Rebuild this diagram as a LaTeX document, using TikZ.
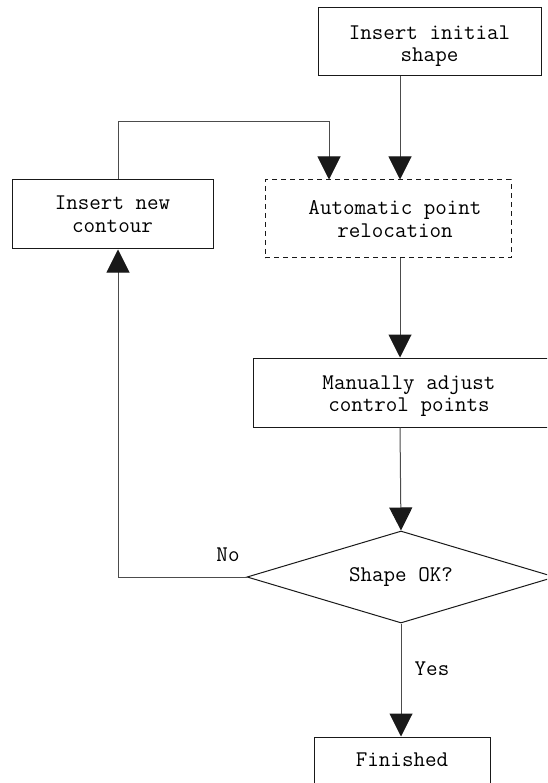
\documentclass[tikz,border=0pt]{standalone}
\usetikzlibrary{arrows.meta,shapes.geometric}
\newcommand{\twolines}[3]{\raisebox{#1}[0pt][0pt]{\begin{tabular}{@{}c@{}}#2\\#3\end{tabular}}}
\begin{document}
\begin{tikzpicture}[x=1pt,y=-1pt,
  font=\ttfamily\fontsize{22.4}{23}\selectfont,
  stepbox/.style={draw=black!90, line width=1pt, fill=white, align=center, inner sep=0pt},
  dashbox/.style={stepbox, dashed, dash pattern=on 5pt off 4pt},
  decision/.style={diamond, aspect=3.35, draw=black!90, line width=1pt, fill=white, inner sep=0pt,
    minimum width=308pt, minimum height=92pt},
  flow/.style={draw=black!70, line width=1pt, -{Triangle[length=23pt,width=23pt,black!90]}},
  tag/.style={inner sep=0pt}]
\clip (0,0) rectangle (547,783);
\renewcommand{\arraystretch}{0.95}

% process boxes
\node[stepbox, minimum width=223pt, minimum height=68pt] (init) at (429.5,42) {\twolines{-9.6pt}{Insert initial}{shape}};
\node[dashbox, minimum width=246pt, minimum height=78pt] (auto) at (388,219) {\hspace*{14pt}Automatic point\\\hspace*{14pt}relocation};
\node[stepbox, minimum width=312pt, minimum height=69pt] (manual) at (409,392.5) {\twolines{-8.6pt}{Manually adjust}{control points}};
\node[stepbox, minimum width=201pt, minimum height=69pt] (contour) at (112.5,214.5) {Insert new\\contour};
\node[decision] (check) at (401,577) {\raisebox{-2pt}{Shape OK?}};
\node[stepbox, minimum width=176pt, minimum height=48pt] (fin) at (402,761) {\raisebox{3pt}{Finished}};

% branch labels
\node[tag] (no) at (228,555) {No};
\node[tag] (yes) at (432,669) {Yes};

% routing columns and corners
\coordinate (colM) at (400,0);
\coordinate (colL) at (118,0);
\coordinate (colP) at (329,0);
\coordinate (loopA) at (118,122);
\coordinate (loopB) at (329,122);
\coordinate (noCorner) at (118,577);

% connectors
\draw[flow] (init.south -| colM) -- (auto.north -| colM);
\draw[flow] (contour.north -| colL) -- (loopA) -- (loopB) -- (auto.north -| colP);
\draw[flow] (auto.south -| colM) -- (manual.north -| colM);
\draw[flow] (manual.south -| colM) -- (check.north);
\draw[flow] (check.west) -- (noCorner) -- (contour.south -| colL);
\draw[flow] (check.south) -- (fin.north -| check.south);
\end{tikzpicture}
\end{document}
